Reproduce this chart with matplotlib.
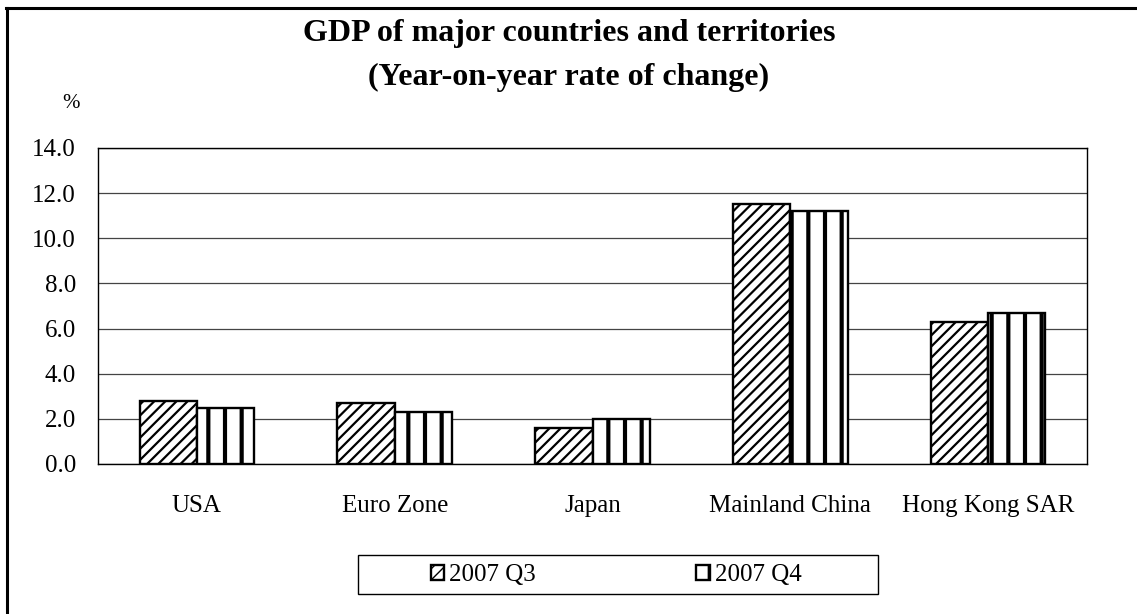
import matplotlib
matplotlib.use("Agg")
import matplotlib.pyplot as plt
from matplotlib.lines import Line2D
from matplotlib.patches import Rectangle
import numpy as np

# Data: GDP, year-on-year rate of change (%)
regions = ["USA", "Euro Zone", "Japan", "Mainland China", "Hong Kong SAR"]
q3_2007 = [2.8, 2.7, 1.6, 11.5, 6.3]
q4_2007 = [2.5, 2.3, 2.0, 11.2, 6.7]
series_names = ["2007 Q3", "2007 Q4"]
y_ticks = [0, 2, 4, 6, 8, 10, 12, 14]

plt.rcParams["font.family"] = ["Liberation Serif", "DejaVu Serif"]

W, H = 1137, 614
fig = plt.figure(figsize=(W / 100, H / 100), dpi=100)
fig.patch.set_facecolor("white")

ax = fig.add_axes([98 / W, 1 - 464 / H, 989 / W, 316 / H])

x = np.arange(len(regions))
bw = 0.29
b3 = ax.bar(x - bw / 2, q3_2007, width=bw, facecolor="white", edgecolor="black",
            linewidth=1.7, hatch="///", label=series_names[0], zorder=3)
b4 = ax.bar(x + bw / 2, q4_2007, width=bw, facecolor="white", edgecolor="black",
            linewidth=1.7, hatch="|", label=series_names[1], zorder=3)

for patch in b3:
    if hasattr(patch, "set_hatch_linewidth"):
        patch.set_hatch_linewidth(1.6)
for patch in b4:
    if hasattr(patch, "set_hatch_linewidth"):
        patch.set_hatch_linewidth(3.0)

ax.set_xlim(-0.5, len(regions) - 0.5)
ax.set_ylim(0, 14)
ax.set_yticks(y_ticks)
ax.set_yticklabels([f"{v:.1f}" for v in y_ticks])
ax.set_xticks(x)
ax.set_xticklabels(regions)
ax.tick_params(axis="both", length=0, labelsize=18)
ax.tick_params(axis="x", pad=22)
ax.tick_params(axis="y", pad=16)
ax.yaxis.grid(True, color="#444444", linewidth=0.9, zorder=0)
ax.set_axisbelow(True)
for s in ax.spines.values():
    s.set_color("black")
    s.set_linewidth(1.0)

# Titles and unit label
fig.text(569 / W, 1 - 33 / H, "GDP of major countries and territories",
         ha="center", va="center", fontsize=23, fontweight="bold")
fig.text(569 / W, 1 - 77 / H, "(Year-on-year rate of change)",
         ha="center", va="center", fontsize=23, fontweight="bold")
fig.text(71 / W, 1 - 103 / H, "%", ha="center", va="center", fontsize=15)

# Legend frame and entries
fig.patches.append(Rectangle((358 / W, 1 - 594 / H), 520 / W, 39 / H,
                             transform=fig.transFigure, facecolor="white",
                             edgecolor="black", linewidth=1.0))
leg = fig.legend(handles=[b3, b4], labels=series_names, loc="center",
                 bbox_to_anchor=(616 / W, 1 - 575 / H), ncol=2, frameon=False,
                 fontsize=18, handlelength=0.55, handleheight=0.55,
                 handletextpad=0.2, columnspacing=6.4)

# Outer frame (top and left edges)
fig.add_artist(Line2D([7 / W, 7 / W], [0, 1 - 7.5 / H], transform=fig.transFigure,
                      color="black", linewidth=2.2))
fig.add_artist(Line2D([6 / W, 1], [1 - 7.5 / H, 1 - 7.5 / H], transform=fig.transFigure,
                      color="black", linewidth=2.2))

fig.savefig("out.png", dpi=100, facecolor="white")
